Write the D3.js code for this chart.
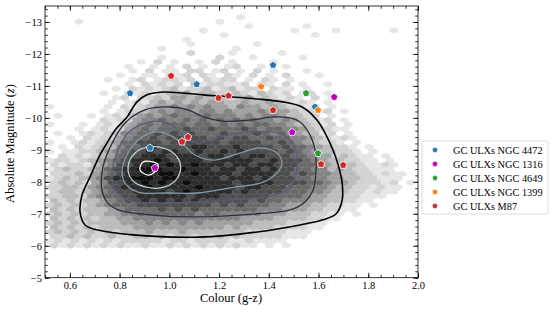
<!DOCTYPE html>
<html>
<head>
<meta charset="utf-8">
<script src="https://cdn.jsdelivr.net/npm/d3@7"></script>
<style>
body { margin: 0; background: #fff; }
svg text { font-family: "Liberation Serif", serif; fill: #000; }
</style>
</head>
<body>
<svg id="drawing_region"></svg>
<script>
// GC hexbin counts (shade 0-9), one string per hex row, top row first
const hexMagStart = -13.15;
const hexMagStep = 0.14;
const hexColStart = 0.52;
const hexColStep = 1 / 30;
const hexRows = [
  "00000 00000 00000 00000 00010 00000 00000 00000 00000",
  "00010 00000 00000 00000 10000 00000 00000 00000 00000",
  "00000 00000 00000 00000 00001 00000 01000 00000 00000",
  "00000 00000 00000 00010 00000 00001 00001 00000 01000",
  "00000 00000 00000 00000 01000 00000 00100 00000 00000",
  "00000 00000 00000 01000 00000 00000 00000 00000 00000",
  "00000 00000 00000 00100 00000 10000 00000 00000 00000",
  "00000 00000 00010 00000 00100 00000 00000 00000 00000",
  "00000 00000 00000 00200 00100 00010 00000 00000 00000",
  "00000 00000 00010 00000 20001 00000 10000 00000 00000",
  "00000 00000 01020 10010 20100 00100 00000 00000 00000",
  "00000 00001 00101 02010 01200 10010 00000 00000 00000",
  "00000 00000 10201 10220 12010 20100 01000 00000 00000",
  "00000 00010 01102 12021 02102 01020 00100 00000 00000",
  "00000 00100 12012 21202 12201 02101 00000 00000 00000",
  "00000 00001 02121 20312 21120 21020 10010 00000 00000",
  "00000 00010 21212 31223 12312 20211 01000 00000 00000",
  "00000 01002 12123 34233 22321 32120 12010 00000 00000",
  "00000 00012 02232 44343 33234 23212 10201 00000 00000",
  "00000 00101 21343 43434 43343 34321 21010 00000 00000",
  "10000 00102 12344 54545 44354 43432 21201 00000 00000",
  "00000 01012 23454 55455 45444 54443 22120 10000 00000",
  "01000 10121 34545 65556 55545 45543 32201 00000 00000",
  "00000 02122 45565 56565 65656 55454 32120 10000 00000",
  "10001 01213 45656 66566 56565 66554 33212 01000 00000",
  "00010 12124 56566 67667 66676 56655 43221 10000 00000",
  "01001 21235 56676 76766 67666 76565 43312 01000 00000",
  "00102 12245 66767 76776 76776 67665 54321 21000 00000",
  "10012 12346 67776 77777 76777 76676 54322 10100 00000",
  "01021 23356 67877 77887 77877 77676 65432 21010 00000",
  "10112 23456 77878 87787 78787 77767 65433 22101 00000",
  "02121 23467 78887 88878 87878 87776 65442 32110 10000",
  "12212 34567 88898 78887 88888 77877 76543 32211 01000",
  "21221 34577 88989 88988 87887 88777 66543 33211 21000",
  "12322 34678 89998 89888 78878 87877 66553 43221 11000",
  "22232 45678 89899 88988 88788 88776 76554 33221 21100",
  "12323 45788 99989 98888 87888 78777 66554 43322 11100",
  "23232 45778 89898 89888 88788 88777 76654 43222 12010",
  "22332 45678 88988 88898 88878 87776 66554 33221 21100",
  "23323 45677 88887 89888 88787 77766 65543 32212 11000",
  "22332 45667 78888 88788 87777 77666 65443 32211 10000",
  "32323 34567 78787 87877 77776 76655 54433 22110 00000",
  "23232 34566 67777 77777 67676 66554 44332 21101 00000",
  "32323 33456 66676 76766 66666 55544 43322 11000 00000",
  "23232 33445 56666 66656 65555 54443 33221 10100 00000",
  "32323 23344 55555 55555 55544 44333 32211 00000 00000",
  "23232 33334 44545 45454 44444 33332 22110 00000 00000",
  "32323 23333 44444 44444 43433 33222 21100 00000 00000",
  "23232 32323 33433 34333 33332 22221 11000 00000 00000",
  "22323 22322 33232 33232 32322 22211 10000 00000 00000",
  "12121 21212 22221 22122 22112 11110 00000 00000 00000",
  "21212 12121 12112 12121 21211 01010 00000 00000 00000"
];

// density contours [colour, magnitude], outermost first
const contour1 = [[0.721,-8.84],[0.681,-8.15],[0.649,-7.59],[0.641,-7.06],[0.661,-6.65],[0.713,-6.49],[0.854,-6.34],[1.123,-6.27],[1.353,-6.43],[1.526,-6.65],[1.618,-6.81],[1.671,-7.0],[1.695,-7.43],[1.695,-7.96],[1.679,-8.53],[1.658,-9.0],[1.630,-9.47],[1.594,-9.93],[1.534,-10.34],[1.457,-10.50],[1.353,-10.59],[1.136,-10.72],[0.975,-10.81],[0.910,-10.72],[0.870,-10.50],[0.830,-10.03],[0.782,-9.62],[0.749,-9.21]];
const contour2 = [[0.902,-10.25],[0.822,-9.84],[0.770,-9.21],[0.733,-8.46],[0.729,-7.74],[0.749,-7.37],[0.794,-7.12],[0.930,-6.96],[1.103,-6.90],[1.353,-7.0],[1.486,-7.12],[1.546,-7.37],[1.578,-7.74],[1.590,-8.37],[1.586,-9.0],[1.566,-9.46],[1.526,-9.87],[1.486,-10.0],[1.417,-10.03],[1.325,-9.93],[1.216,-9.90],[1.136,-10.03],[1.075,-10.25],[1.003,-10.34]];
const contour3 = [[0.951,-9.90],[0.882,-9.78],[0.834,-9.53],[0.794,-9.0],[0.770,-8.28],[0.782,-7.74],[0.834,-7.43],[0.930,-7.34],[1.103,-7.37],[1.244,-7.43],[1.377,-7.53],[1.473,-7.74],[1.506,-8.15],[1.514,-8.78],[1.486,-9.31],[1.445,-9.53],[1.393,-9.56],[1.313,-9.56],[1.204,-9.40],[1.123,-9.21],[1.075,-9.31],[1.043,-9.53],[1.003,-9.81]];
const contour4 = [[0.955,-9.56],[1.035,-9.31],[1.103,-8.84],[1.176,-8.68],[1.284,-8.90],[1.365,-9.06],[1.433,-8.90],[1.453,-8.59],[1.433,-8.28],[1.377,-7.99],[1.244,-7.81],[1.111,-7.65],[0.995,-7.65],[0.874,-7.68],[0.822,-7.96],[0.810,-8.37],[0.834,-8.90],[0.890,-9.40]];
const contour5 = [[0.955,-9.09],[1.011,-8.93],[1.043,-8.59],[1.035,-8.15],[0.983,-7.84],[0.902,-7.84],[0.850,-8.06],[0.834,-8.46],[0.862,-8.90],[0.914,-9.09]];
const contour6 = [[0.894,-8.62],[0.882,-8.37],[0.914,-8.21],[0.942,-8.31],[0.955,-8.53],[0.934,-8.62]];
const contours = [contour1, contour2, contour3, contour4, contour5, contour6];

// GC ULXs per galaxy [colour, magnitude]
const ngc4472 = [[0.842,-10.77],[1.110,-11.05],[1.417,-11.65],[0.922,-9.06],[1.586,-10.34]];
const ngc1316 = [[0.942,-8.43],[1.494,-9.55],[1.663,-10.65]];
const ngc4649 = [[1.550,-10.77],[1.598,-8.89]];
const ngc1399 = [[1.369,-10.98],[1.598,-10.24]];
const m87 = [[1.007,-11.31],[1.198,-10.62],[1.238,-10.69],[1.417,-10.24],[1.051,-9.25],[1.075,-9.40],[1.610,-8.55],[1.699,-8.52]];
const ulxNames = ["GC ULXs NGC 4472", "GC ULXs NGC 1316", "GC ULXs NGC 4649", "GC ULXs NGC 1399", "GC ULXs M87"];
const ulxSets = [ngc4472, ngc1316, ngc4649, ngc1399, m87];

const xTicks = [0.6, 0.8, 1.0, 1.2, 1.4, 1.6, 1.8, 2.0];
const yTicks = [-5, -6, -7, -8, -9, -10, -11, -12, -13];

const ulxColors = ["#1f77b4", "#bf00bf", "#2ca02c", "#ff7f0e", "#d62728"];
const contourColors = ["#000000", "#2d2d3e", "#595c79", "#869aa6", "#b9d2d2", "#ffffff"];

var config = {
  parent: '#drawing_region',
  width: 554,
  height: 313,
  margin: { top: 6, right: 136, bottom: 35.3, left: 45 }
};

const svg = d3.select(config.parent)
  .attr('width', config.width)
  .attr('height', config.height);

const inner_width = config.width - config.margin.left - config.margin.right;
const inner_height = config.height - config.margin.top - config.margin.bottom;

const chart = svg.append('g')
  .attr('transform', `translate(${config.margin.left}, ${config.margin.top})`);

const xscale = d3.scaleLinear().domain([0.5, 2.0]).range([0, inner_width]);
const yscale = d3.scaleLinear().domain([-5, -13.5]).range([inner_height, 0]);
const shade = d3.scaleLinear().domain([1, 9]).range([0.18, 0.95]);

// hex cells
const cells = [];
hexRows.forEach((row, r) => {
  const s = row.replace(/ /g, '');
  for (let c = 0; c < s.length; c++) {
    const v = +s[c];
    if (v > 0) {
      cells.push({
        x: hexColStart + c * hexColStep + (r % 2 ? hexColStep / 2 : 0),
        y: hexMagStart + r * hexMagStep,
        v: v
      });
    }
  }
});

const sx = hexColStep, sy = 2 * hexMagStep;
const hexShape = [[0.5, -0.5], [0.5, 0.5], [0, 1], [-0.5, 0.5], [-0.5, -0.5], [0, -1]];

chart.append('g').selectAll('path')
  .data(cells)
  .join('path')
  .attr('d', d => 'M' + hexShape.map(p => [xscale(d.x + p[0] * sx), yscale(d.y + p[1] * sy / 3)].join(',')).join('L') + 'Z')
  .attr('fill', d => d3.interpolateGreys(shade(d.v)))
  .attr('stroke', d => d3.interpolateGreys(shade(d.v)))
  .attr('stroke-width', 0.3);

// contours
const line = d3.line()
  .x(d => xscale(d[0]))
  .y(d => yscale(d[1]))
  .curve(d3.curveCatmullRomClosed.alpha(0.5));

chart.append('g').selectAll('path')
  .data(contours)
  .join('path')
  .attr('d', line)
  .attr('fill', 'none')
  .attr('stroke', (d, i) => contourColors[i])
  .attr('stroke-width', (d, i) => i == 0 ? 1.6 : 1.3);

// pentagon markers
function pentagon(r) {
  const pts = d3.range(5).map(k => {
    const a = -Math.PI / 2 + k * 2 * Math.PI / 5;
    return [r * Math.cos(a), r * Math.sin(a)];
  });
  return d3.line()(pts) + 'Z';
}

ulxSets.forEach((set, i) => {
  chart.append('g').selectAll('path')
    .data(set)
    .join('path')
    .attr('transform', d => `translate(${xscale(d[0])}, ${yscale(d[1])})`)
    .attr('d', pentagon(3.9))
    .attr('fill', ulxColors[i])
    .attr('stroke', '#fff')
    .attr('stroke-width', 0.8);
});

// axes, ticks inside on all four sides
const xMinor = d3.range(10, 41).map(i => i * 0.05);
const yMinor = d3.range(25, 68).map(i => -i * 0.2);

function styleAxis(g) {
  g.select('.domain').remove();
  g.selectAll('line').attr('stroke', '#000').attr('stroke-width', 0.8);
  g.selectAll('text').attr('font-size', '10.5px').attr('font-family', '"Liberation Serif", serif');
}

chart.append('g')
  .attr('transform', `translate(0, ${inner_height})`)
  .call(d3.axisBottom(xscale).tickValues(xTicks).tickFormat(d3.format('.1f')).tickSizeInner(-5).tickSizeOuter(0).tickPadding(4))
  .call(styleAxis);
chart.append('g')
  .attr('transform', `translate(0, ${inner_height})`)
  .call(d3.axisBottom(xscale).tickValues(xMinor).tickFormat('').tickSizeInner(-2.8).tickSizeOuter(0))
  .call(styleAxis);
chart.append('g')
  .call(d3.axisTop(xscale).tickValues(xTicks).tickFormat('').tickSizeInner(-5).tickSizeOuter(0))
  .call(styleAxis);
chart.append('g')
  .call(d3.axisTop(xscale).tickValues(xMinor).tickFormat('').tickSizeInner(-2.8).tickSizeOuter(0))
  .call(styleAxis);

chart.append('g')
  .call(d3.axisLeft(yscale).tickValues(yTicks).tickFormat(d3.format('d')).tickSizeInner(-5).tickSizeOuter(0).tickPadding(3))
  .call(styleAxis);
chart.append('g')
  .call(d3.axisLeft(yscale).tickValues(yMinor).tickFormat('').tickSizeInner(-2.8).tickSizeOuter(0))
  .call(styleAxis);
chart.append('g')
  .attr('transform', `translate(${inner_width}, 0)`)
  .call(d3.axisRight(yscale).tickValues(yTicks).tickFormat('').tickSizeInner(-5).tickSizeOuter(0))
  .call(styleAxis);
chart.append('g')
  .attr('transform', `translate(${inner_width}, 0)`)
  .call(d3.axisRight(yscale).tickValues(yMinor).tickFormat('').tickSizeInner(-2.8).tickSizeOuter(0))
  .call(styleAxis);

chart.append('rect')
  .attr('width', inner_width)
  .attr('height', inner_height)
  .attr('fill', 'none')
  .attr('stroke', '#000')
  .attr('stroke-width', 0.8);

// axis titles
svg.append('text')
  .attr('x', 231)
  .attr('y', 302)
  .attr('text-anchor', 'middle')
  .attr('font-size', '12.5px')
  .text('Colour (g-z)');

const ylab = svg.append('text')
  .attr('transform', 'translate(14, 143.5) rotate(-90)')
  .attr('text-anchor', 'middle')
  .attr('font-size', '12.5px');
ylab.append('tspan').text('Absolute Magnitude (');
ylab.append('tspan').attr('font-style', 'italic').text('z');
ylab.append('tspan').text(')');

// legend
const legend = svg.append('g').attr('transform', 'translate(422, 141)');
legend.append('rect')
  .attr('width', 126)
  .attr('height', 73)
  .attr('rx', 2)
  .attr('fill', '#fff')
  .attr('stroke', '#d6d6d6')
  .attr('stroke-width', 0.8);

const items = legend.selectAll('.item')
  .data(ulxNames)
  .join('g')
  .attr('class', 'item')
  .attr('transform', (d, i) => `translate(0, ${9 + i * 14})`);
items.append('path')
  .attr('transform', 'translate(13, 0)')
  .attr('d', pentagon(3.0))
  .attr('fill', (d, i) => ulxColors[i])
  .attr('stroke', '#fff')
  .attr('stroke-width', 0.6);
items.append('text')
  .attr('x', 31)
  .attr('y', 3.6)
  .attr('font-size', '10.3px')
  .text(d => d);
</script>
</body>
</html>
